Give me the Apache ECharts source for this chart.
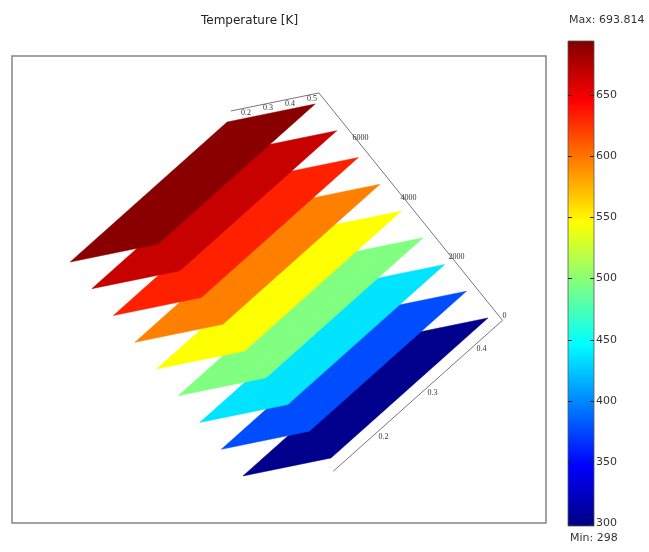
<!DOCTYPE html>
<html lang="en">
<head>
    <meta charset="UTF-8">
    <title>Temperature [K]</title>
    <script type="text/javascript" src="https://cdn.jsdelivr.net/npm/echarts@6/dist/echarts.min.js"></script>
    <style>
        html, body { margin: 0; padding: 0; background: #fff; }
        #main { width: 649px; height: 552px; }
    </style>
</head>
<body>
<div id="main"></div>
<script type="text/javascript">
    // slices: position along z and temperature of each (K)
    var sliceZ = [300, 1200, 2100, 3000, 3900, 4800, 5700, 6600, 7500];
    var sliceTemp = [303, 377, 436, 496, 545, 595, 632, 666, 690];
    var tempMin = 298;
    var tempMax = 693.814;
    var sliceX = [0.1, 0.5];
    var sliceY = [0.12, 0.44];
    // bounding box of the geometry
    var boxX = [0.1, 0.5];
    var boxY = [0.11, 0.455];
    var boxZ = [0, 7650];
    // tick labels
    var xTicks = [0.2, 0.3, 0.4, 0.5];
    var yTicks = [0.2, 0.3, 0.4];
    var zTicks = [0, 2000, 4000, 6000];
    var barTicks = [300, 350, 400, 450, 500, 550, 600, 650];
    // jet colour map
    var jet = ['#000080', '#0000ff', '#0080ff', '#00ffff', '#80ff80', '#ffff00', '#ff8000', '#ff0000', '#800000'];

    // fixed camera: 3d point -> value on the hidden plane axes
    var view = {ox: 169.3, oy: 541.9, ex: [220, -45], ey: [490.6, -437.5], ez: [-0.024, -0.02972]};
    function project(p) {
        return [
            view.ox + p[0] * view.ex[0] + p[1] * view.ey[0] + p[2] * view.ez[0],
            view.oy + p[0] * view.ex[1] + p[1] * view.ey[1] + p[2] * view.ez[1]
        ];
    }

    var sliceData = sliceZ.map(function (z, i) { return [z, sliceTemp[i]]; });

    var edges = [
        [[boxX[0], boxY[1], boxZ[1]], [boxX[1], boxY[1], boxZ[1]]],
        [[boxX[1], boxY[1], boxZ[0]], [boxX[1], boxY[1], boxZ[1]]],
        [[boxX[1], boxY[0], boxZ[0]], [boxX[1], boxY[1], boxZ[0]]]
    ];

    var labels = [];
    xTicks.forEach(function (v) { labels.push({p: [v, boxY[1], boxZ[1]], t: v.toFixed(1), d: [-7, 6]}); });
    yTicks.forEach(function (v) { labels.push({p: [boxX[1], v, boxZ[0]], t: v.toFixed(1), d: [6, 5]}); });
    zTicks.forEach(function (v) { labels.push({p: [boxX[1], boxY[1], v], t: String(v), d: [2, -4]}); });

    var myChart = echarts.init(document.getElementById('main'));

    var option = {
        animation: false,
        backgroundColor: '#fff',
        title: [
            {text: 'Temperature [K]', left: 201, top: 15, padding: 0,
                textStyle: {fontSize: 12, fontWeight: 'normal', fontFamily: 'DejaVu Sans', color: '#222'}},
            {text: 'Max: 693.814', left: 569, top: 15, padding: 0,
                textStyle: {fontSize: 11, fontWeight: 'normal', fontFamily: 'DejaVu Sans', color: '#333'}},
            {text: 'Min: 298', left: 570, top: 533, padding: 0,
                textStyle: {fontSize: 11, fontWeight: 'normal', fontFamily: 'DejaVu Sans', color: '#333'}}
        ],
        visualMap: {
            type: 'continuous',
            show: false,
            min: tempMin,
            max: tempMax,
            dimension: 1,
            seriesIndex: 0,
            inRange: {color: jet}
        },
        grid: [
            {left: 12, top: 56, width: 534, height: 467, show: true, borderColor: '#858585', borderWidth: 1.5, backgroundColor: 'transparent'},
            {left: 568, top: 41, width: 26, height: 485}
        ],
        xAxis: [
            {gridIndex: 0, type: 'value', min: 12, max: 546, show: false},
            {gridIndex: 1, type: 'value', min: 0, max: 1, show: false}
        ],
        yAxis: [
            {gridIndex: 0, type: 'value', min: 56, max: 523, inverse: true, show: false},
            {
                gridIndex: 1, type: 'value', min: tempMin, max: tempMax, position: 'right',
                axisLine: {show: false}, splitLine: {show: false}, axisTick: {show: false},
                axisLabel: {customValues: barTicks, margin: 2, fontSize: 11, fontFamily: 'DejaVu Sans', color: '#333'}
            }
        ],
        series: [
            {
                // temperature slices, low z first so the upper ones cover them
                type: 'custom',
                xAxisIndex: 0, yAxisIndex: 0,
                data: sliceData,
                renderItem: function (params, api) {
                    var z = api.value(0);
                    var pts = [
                        [sliceX[0], sliceY[0], z], [sliceX[1], sliceY[0], z],
                        [sliceX[1], sliceY[1], z], [sliceX[0], sliceY[1], z]
                    ].map(function (p) { return api.coord(project(p)); });
                    return {
                        type: 'polygon',
                        shape: {points: pts},
                        style: {fill: api.visual('color'), stroke: api.visual('color'), lineWidth: 0.5}
                    };
                }
            },
            {
                // box edges
                type: 'custom',
                xAxisIndex: 0, yAxisIndex: 0,
                data: edges.map(function (e, i) { return [i]; }),
                renderItem: function (params, api) {
                    var e = edges[params.dataIndex];
                    var a = api.coord(project(e[0]));
                    var b = api.coord(project(e[1]));
                    return {
                        type: 'line',
                        shape: {x1: a[0], y1: a[1], x2: b[0], y2: b[1]},
                        style: {stroke: '#777', lineWidth: 1}
                    };
                }
            },
            {
                // axis tick labels
                type: 'custom',
                xAxisIndex: 0, yAxisIndex: 0,
                data: labels.map(function (l, i) { return [i]; }),
                renderItem: function (params, api) {
                    var l = labels[params.dataIndex];
                    var c = api.coord(project(l.p));
                    return {
                        type: 'text',
                        x: c[0] + l.d[0], y: c[1] + l.d[1],
                        style: {
                            text: l.t, fill: '#333',
                            font: '8px "Liberation Serif"',
                            align: 'center', verticalAlign: 'middle'
                        }
                    };
                }
            },
            {
                // colour bar with inner tick marks on both edges
                type: 'custom',
                xAxisIndex: 1, yAxisIndex: 1,
                data: [[0, tempMin, 1, tempMax]],
                renderItem: function (params, api) {
                    var a = api.coord([api.value(0), api.value(3)]);
                    var b = api.coord([api.value(2), api.value(1)]);
                    var stops = jet.map(function (c, i) { return {offset: i / (jet.length - 1), color: c}; });
                    var children = [{
                        type: 'rect',
                        shape: {x: a[0], y: a[1], width: b[0] - a[0], height: b[1] - a[1]},
                        style: {
                            fill: new echarts.graphic.LinearGradient(0, 1, 0, 0, stops),
                            stroke: '#555', lineWidth: 0.8
                        }
                    }];
                    barTicks.forEach(function (t) {
                        var y = Math.round(api.coord([0, t])[1]) + 0.5;
                        children.push({type: 'line', shape: {x1: a[0], y1: y, x2: a[0] + 4, y2: y},
                            style: {stroke: '#222', lineWidth: 1}});
                        children.push({type: 'line', shape: {x1: b[0] - 4, y1: y, x2: b[0], y2: y},
                            style: {stroke: '#222', lineWidth: 1}});
                    });
                    return {type: 'group', children: children};
                }
            }
        ]
    };

    myChart.setOption(option);
</script>
</body>
</html>
